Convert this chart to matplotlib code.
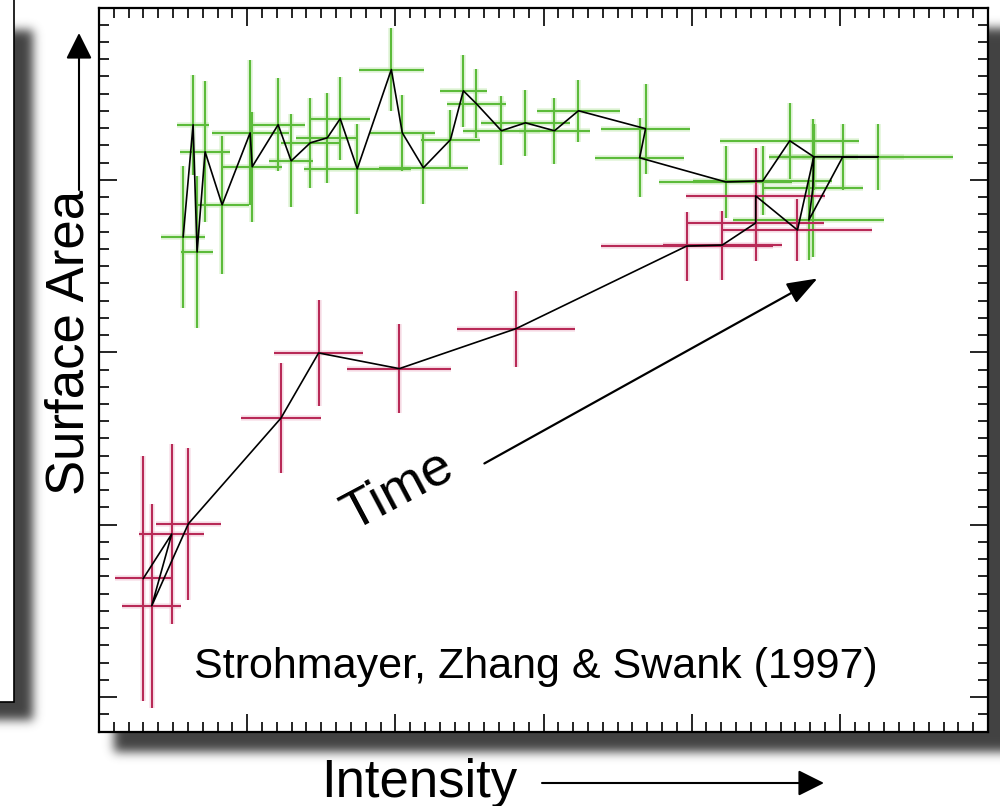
import numpy as np
import matplotlib
matplotlib.use('Agg')
import matplotlib.pyplot as plt
from matplotlib.ticker import MultipleLocator
from matplotlib.patches import Rectangle

plt.rcParams['font.family'] = ['Liberation Sans', 'DejaVu Sans']

# rise of the burst (red), in time order
red_x = [0.299, 0.491, 0.356, 0.603, 1.228, 1.482, 2.027, 2.815, 3.966, 4.207, 4.432, 4.432, 4.714]
red_y = [0.688, 0.946, 0.529, 1.005, 1.618, 1.996, 1.905, 2.137, 2.616, 2.622, 2.750, 2.907, 2.709]
red_xerr = [0.19, 0.22, 0.20, 0.22, 0.27, 0.30, 0.35, 0.40, 0.58, 0.40, 0.46, 0.47, 0.50]
red_yerr = [0.71, 0.52, 0.59, 0.44, 0.32, 0.31, 0.26, 0.22, 0.20, 0.20, 0.22, 0.28, 0.18]

# decay of the burst (green), in time order
green_x = [4.824, 5.257, 5.020, 4.791, 4.818, 4.824, 4.662, 4.480, 4.230, 3.649, 3.689, 3.236,
           3.074, 2.878, 2.716, 2.547, 2.459, 2.372, 2.189, 2.047, 1.973, 1.743, 1.628, 1.541,
           1.426, 1.297, 1.209, 1.034, 1.020, 0.831, 0.716, 0.662, 0.635, 0.568]
green_y = [3.134, 3.134, 3.134, 2.767, 2.953, 3.134, 3.227, 2.994, 2.988, 3.128, 3.297, 3.401,
           3.285, 3.331, 3.285, 3.442, 3.517, 3.233, 3.070, 3.273, 3.640, 3.064, 3.355, 3.244,
           3.215, 3.110, 3.320, 3.076, 3.273, 2.855, 3.163, 2.581, 3.320, 2.669]
green_xerr = [0.30, 0.51, 0.41, 0.51, 0.34, 0.30, 0.47, 0.47, 0.45, 0.30, 0.30, 0.28,
              0.24, 0.30, 0.26, 0.20, 0.16, 0.20, 0.30, 0.22, 0.22, 0.36, 0.20, 0.21,
              0.20, 0.15, 0.18, 0.20, 0.26, 0.18, 0.17, 0.11, 0.11, 0.15]
green_yerr = [0.19, 0.19, 0.19, 0.23, 0.40, 0.19, 0.22, 0.20, 0.21, 0.23, 0.26, 0.18,
              0.19, 0.19, 0.20, 0.20, 0.21, 0.17, 0.21, 0.22, 0.24, 0.26, 0.24, 0.26,
              0.26, 0.27, 0.27, 0.32, 0.42, 0.40, 0.41, 0.44, 0.29, 0.41]

W, H = 1000, 806
fig = plt.figure(figsize=(W / 100, H / 100), dpi=100)

# background layer in pixel coordinates: drop shadows, side panel, axis labels
bg = fig.add_axes([0, 0, 1, 1], zorder=0)


def blur(a, s):
    r = int(3 * s)
    k = np.exp(-0.5 * (np.arange(-r, r + 1) / s) ** 2)
    k /= k.sum()
    a = np.apply_along_axis(lambda m: np.convolve(m, k, mode='same'), 0, a)
    a = np.apply_along_axis(lambda m: np.convolve(m, k, mode='same'), 1, a)
    return a


pad = 40
mask = np.zeros((H + 2 * pad, W + 2 * pad))
mask[pad + 28:pad + 752, pad + 114:] = 1
mask[pad + 30:pad + 720, :pad + 33] = 1
mask = blur(mask, 5)[pad:pad + H, pad:pad + W]
rgba = np.zeros((H, W, 4))
rgba[..., :3] = 0.26
rgba[..., 3] = np.clip(mask, 0, 1)
bg.imshow(rgba, extent=(0, W, H, 0), aspect='auto', interpolation='bilinear')
bg.add_patch(Rectangle((-10, -10), 24, 712, facecolor='white', edgecolor='black', lw=1.2))
bg.set_xlim(0, W)
bg.set_ylim(H, 0)
bg.axis('off')

bg.text(70, 342, 'Surface Area', rotation=90, ha='center', va='center', fontsize=38)
bg.annotate('', xy=(79, 33), xytext=(79, 190),
            arrowprops=dict(arrowstyle='-|>,head_length=0.5,head_width=0.25', mutation_scale=32,
                            lw=1.5, color='black', shrinkA=0, shrinkB=0))
bg.text(419, 797, 'Intensity', ha='center', va='baseline', fontsize=38)
bg.annotate('', xy=(824, 783), xytext=(542, 783),
            arrowprops=dict(arrowstyle='-|>,head_length=0.5,head_width=0.25', mutation_scale=32,
                            lw=1.5, color='black', shrinkA=0, shrinkB=0))

# main plot
ax = fig.add_axes([0.099, 1 - 731.5 / H, 0.889, 724 / H], zorder=1)
ax.set_facecolor('white')

green = '#5cbb3a'
red = '#b82a57'
ax.errorbar(green_x, green_y, xerr=green_xerr, yerr=green_yerr, fmt='none',
            ecolor='#c4eab2', elinewidth=4, alpha=0.5, capsize=0)
ax.errorbar(red_x, red_y, xerr=red_xerr, yerr=red_yerr, fmt='none',
            ecolor='#f0c4d4', elinewidth=4, alpha=0.5, capsize=0)
ax.errorbar(green_x, green_y, xerr=green_xerr, yerr=green_yerr, fmt='none',
            ecolor=green, elinewidth=1.5, capsize=0)
ax.errorbar(red_x, red_y, xerr=red_xerr, yerr=red_yerr, fmt='none',
            ecolor=red, elinewidth=1.5, capsize=0)
ax.plot(np.concatenate([red_x, green_x]), np.concatenate([red_y, green_y]),
        color='black', lw=1.2)

ax.set_xlim(0, 6)
ax.set_ylim(-0.2, 4.0)
ax.xaxis.set_major_locator(MultipleLocator(1))
ax.xaxis.set_minor_locator(MultipleLocator(0.1))
ax.yaxis.set_major_locator(MultipleLocator(1))
ax.yaxis.set_minor_locator(MultipleLocator(0.1))
ax.tick_params(which='both', direction='in', top=True, right=True,
               labelbottom=False, labelleft=False, width=1.2, color='black')
ax.tick_params(which='major', length=13)
ax.tick_params(which='minor', length=7)
for s in ax.spines.values():
    s.set_linewidth(1.6)

ax.annotate('', xy=(4.849, 2.428), xytext=(2.601, 1.355),
            arrowprops=dict(arrowstyle='-|>,head_length=0.55,head_width=0.2', mutation_scale=34,
                            lw=1.6, color='black', shrinkA=0, shrinkB=0))
ax.text(2.02, 1.2, 'Time', rotation=28, rotation_mode='anchor', ha='center', va='center',
        fontsize=39)
ax.text(2.95, 0.11, 'Strohmayer, Zhang & Swank (1997)', ha='center', va='baseline',
        fontsize=31)

fig.savefig('out.png', dpi=100)
